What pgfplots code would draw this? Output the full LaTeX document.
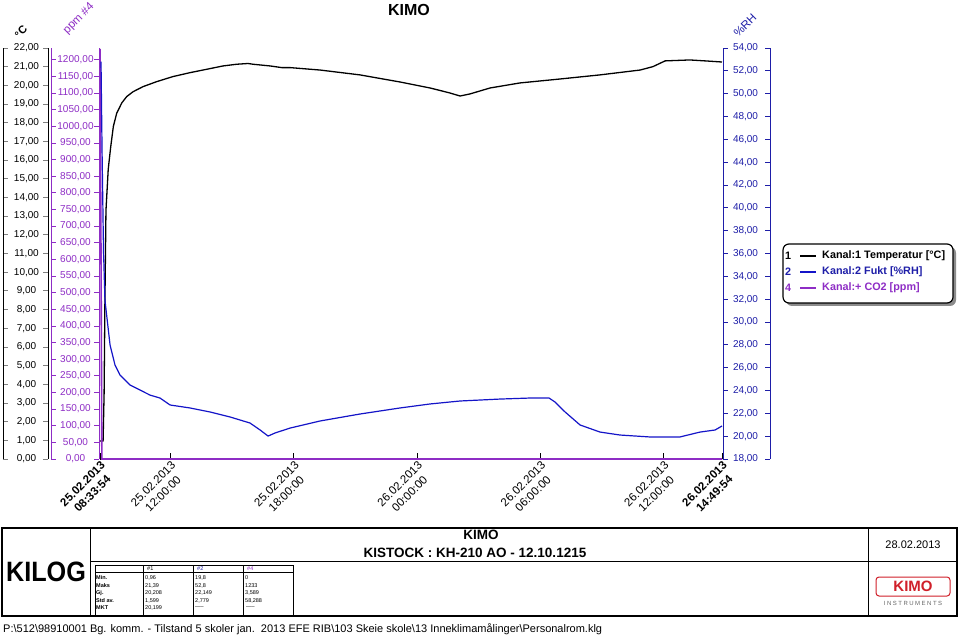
\documentclass[border=0pt]{standalone}
\usepackage{fontspec}
\setmainfont{Liberation Sans}
\usepackage{pgfplots}
\pgfplotsset{compat=1.18}
\definecolor{co2}{HTML}{8E2DC5}
\definecolor{rh}{HTML}{1E1EA8}
\definecolor{rhline}{HTML}{1414C8}
\definecolor{kimored}{HTML}{D0202A}

\pgfplotsset{
  sideax/.style={anchor=south west, scale only axis, height=411pt,
    xmin=0, xmax=1, axis x line=none, axis y line=box, xtick=\empty,
    tick align=inside, major tick length=5pt, ytick pos=both,
    yticklabel pos=left, scaled y ticks=false, clip=false,
    axis line style={line width=0.8pt}, ytick style={line width=0.8pt},
    /pgf/number format/assume math mode=true,
    /pgf/number format/fixed, /pgf/number format/fixed zerofill,
    /pgf/number format/precision=2, /pgf/number format/use comma,
    /pgf/number format/1000 sep={},
    yticklabel style={anchor=center, font=\fontsize{10}{12}\selectfont}},
  dataax/.style={at={(100pt,178pt)}, anchor=south west, scale only axis,
    width=622pt, height=411pt, xmin=0, xmax=30.2667, clip=false},
}

\begin{document}
\begin{tikzpicture}
\useasboundingbox (0pt,0pt) rectangle (960pt,637pt);
\fill[white] (0pt,0pt) rectangle (960pt,637pt);

% left scale, degC
\begin{axis}[sideax, at={(3pt,178pt)}, width=45pt, ymin=0, ymax=22,
  ytick distance=1, yticklabel style={xshift=23.5pt}]
\end{axis}
% ppm scale
\begin{axis}[sideax, at={(51pt,178pt)}, width=48pt, ymin=0, ymax=1235.5,
  ytick distance=50, axis line style={co2}, ytick style={co2},
  yticklabel style={xshift=24.5pt, text=co2}]
\end{axis}
% RH scale
\begin{axis}[sideax, at={(723pt,178pt)}, width=47pt, ymin=18, ymax=54,
  ytick distance=2, axis line style={rh}, ytick style={rh},
  yticklabel style={xshift=22.5pt, text=rh}]
\end{axis}

% temperature + time axis
\begin{axis}[dataax, ymin=0, ymax=22, axis x line*=bottom, axis y line=none,
  ytick=\empty, xtick align=inside, major tick length=6pt,
  x axis line style={black}, xtick style={black, line width=0.8pt},
  xtick={0,3.435,9.435,15.435,21.435,27.435,30.2667},
  xticklabels={{\textbf{25.02.2013}\\\textbf{08:33:54}},
    {25.02.2013\\12:00:00}, {25.02.2013\\18:00:00}, {26.02.2013\\00:00:00},
    {26.02.2013\\06:00:00}, {26.02.2013\\12:00:00},
    {\textbf{26.02.2013}\\\textbf{14:49:54}}},
  xticklabel style={rotate=45, anchor=north east, align=center,
    font=\fontsize{11.5}{14}\selectfont, inner sep=1pt}]
\addplot[black, line width=1.3pt] coordinates {
(0,0.96) (0.15,0.96) (0.2,3.5) (0.24,8.5) (0.29,13.3) (0.40,15.5) (0.52,16.7)
(0.65,17.8) (0.81,18.5) (1.06,19.06) (1.30,19.40) (1.61,19.66) (2.09,19.93)
(2.76,20.2) (3.55,20.47) (4.38,20.68) (5.19,20.86) (5.99,21.04) (6.65,21.13)
(7.2,21.17) (7.45,21.13) (8.27,21.04) (8.84,20.95) (9.25,20.95) (10.71,20.82)
(12.65,20.56) (14.6,20.18) (16.06,19.86) (17.0,19.6) (17.52,19.43) (18.0,19.54)
(18.98,19.86) (20.44,20.13) (22.38,20.34) (24.33,20.56) (26.28,20.82)
(26.9,21.0) (27.5,21.31) (28.7,21.36) (29.44,21.31) (30.2667,21.25)};
\end{axis}

% CO2
\begin{axis}[dataax, ymin=0, ymax=1235.5, hide axis]
\addplot[co2, line width=1.6pt] coordinates {
(0,1233) (0.05,600) (0.09,0) (5,0) (10,0) (15,0) (20,0) (25,0) (30.2667,0)};
\end{axis}

% RH
\begin{axis}[dataax, ymin=18, ymax=54, hide axis]
\addplot[rhline, line width=1.2pt] coordinates {
(0.05,52.8) (0.10,45.06) (0.17,36.3) (0.24,31.92) (0.49,27.98) (0.73,26.23)
(0.97,25.36) (1.46,24.48) (1.95,24.04) (2.43,23.60) (2.92,23.34) (3.41,22.73)
(4.38,22.47) (5.35,22.12) (6.33,21.68) (7.30,21.15) (7.79,20.54) (8.18,20.01)
(8.52,20.28) (9.25,20.71) (10.71,21.33) (12.65,21.94) (14.60,22.47)
(16.06,22.82) (17.52,23.08) (19.46,23.25) (20.92,23.34) (21.85,23.34)
(22.14,22.99) (22.63,22.12) (23.36,20.98) (24.33,20.36) (25.30,20.10)
(26.76,19.93) (28.22,19.93) (29.20,20.36) (29.93,20.54) (30.2667,20.89)};
\end{axis}

\begin{scope}[x=1pt, y=1pt]
% titles and scale names
\node[font=\fontsize{16}{18}\selectfont\bfseries] at (409,627) {KIMO};
\node[rotate=45, font=\fontsize{11}{12}\selectfont\bfseries] at (21,605) {°C};
\node[rotate=45, text=co2, font=\fontsize{11.5}{12}\selectfont] at (79,618) {ppm \#4};
\node[rotate=45, text=rh, font=\fontsize{11.5}{12}\selectfont] at (745,612) {\%RH};

% legend
\fill[black!45, rounded corners=6pt] (786,331) rectangle (956,390);
\draw[black, line width=1.2pt, fill=white, rounded corners=6pt] (783,334) rectangle (953,393);
\begin{scope}[font=\fontsize{10.8}{12}\selectfont\bfseries]
\node at (788,381) {1};
\draw[black, line width=1.2pt] (800,381) -- (816,381);
\node[anchor=west, inner sep=0pt] at (822,381) {Kanal:1 Temperatur [°C]};
\node[text=rh] at (788,365) {2};
\draw[rhline, line width=1.2pt] (800,365) -- (816,365);
\node[anchor=west, inner sep=0pt, text=rh] at (822,365) {Kanal:2 Fukt [\%RH]};
\node[text=co2] at (788,349) {4};
\draw[co2, line width=1.2pt] (800,349) -- (816,349);
\node[anchor=west, inner sep=0pt, text=co2] at (822,349) {Kanal:+ CO2 [ppm]};
\end{scope}

% bottom panel
\draw[line width=1.5pt] (2,21) rectangle (957,109);
\draw[line width=1pt] (90,21) -- (90,109);
\draw[line width=1pt] (868,21) -- (868,109);
\draw[line width=1pt] (90,76) -- (957,76);
\node at (46,65) {\scalebox{0.9}[1]{\fontsize{28}{30}\selectfont\bfseries KILOG}};
\node[font=\fontsize{13.5}{15}\selectfont\bfseries] at (481,102) {KIMO};
\node[font=\fontsize{13.5}{15}\selectfont\bfseries] at (475,84) {KISTOCK : KH-210 AO - 12.10.1215};
\node[font=\fontsize{11}{13}\selectfont] at (913,92) {28.02.2013};
\draw[kimored, line width=1pt, rounded corners=3pt] (876,41) rectangle (950,60);
\node[text=kimored, font=\fontsize{15}{16}\selectfont\bfseries] at (913,50.5) {KIMO};
\node[text=black!60, font=\fontsize{6}{7}\selectfont\addfontfeatures{LetterSpace=25}] at (913,34) {INSTRUMENTS};

% statistics table
\draw[line width=0.8pt] (95,22) rectangle (293,72);
\draw[line width=0.6pt] (95,65) -- (293,65);
\foreach \c in {143,193,243} \draw[line width=0.6pt] (\c,22) -- (\c,72);
\begin{scope}[font=\fontsize{5.5}{6}\selectfont, inner sep=0pt]
\node[anchor=west] at (147,68.5) {\#1};
\node[anchor=west, text=rh] at (197,68.5) {\#2};
\node[anchor=west, text=co2] at (247,68.5) {\#4};
\node[anchor=west, font=\fontsize{5.5}{6}\selectfont\bfseries] at (96,59) {Min.};
\node[anchor=west, font=\fontsize{5.5}{6}\selectfont\bfseries] at (96,51.5) {Maks};
\node[anchor=west, font=\fontsize{5.5}{6}\selectfont\bfseries] at (96,44) {Gj.};
\node[anchor=west, font=\fontsize{5.5}{6}\selectfont\bfseries] at (96,36.5) {Std av.};
\node[anchor=west, font=\fontsize{5.5}{6}\selectfont\bfseries] at (96,29) {MKT};
\node[anchor=west] at (145,59) {0,96};
\node[anchor=west] at (145,51.5) {21,39};
\node[anchor=west] at (145,44) {20,208};
\node[anchor=west] at (145,36.5) {1,599};
\node[anchor=west] at (145,29) {20,199};
\node[anchor=west] at (195,59) {19,8};
\node[anchor=west] at (195,51.5) {52,8};
\node[anchor=west] at (195,44) {22,149};
\node[anchor=west] at (195,36.5) {2,779};
\node[anchor=west] at (195,29) {-----};
\node[anchor=west] at (245,59) {0};
\node[anchor=west] at (245,51.5) {1233};
\node[anchor=west] at (245,44) {3,589};
\node[anchor=west] at (245,36.5) {58,288};
\node[anchor=west] at (246,29) {-----};
\end{scope}

% footer
\node[anchor=west, inner sep=0pt, font=\fontsize{11}{12}\selectfont] at (3,8)
 {P:\textbackslash 512\textbackslash 98910001 Bg. komm. - Tilstand 5 skoler jan.\ \ 2013 EFE RIB\textbackslash 103 Skeie skole\textbackslash 13 Inneklimamålinger\textbackslash Personalrom.klg};
\end{scope}
\end{tikzpicture}
\end{document}
